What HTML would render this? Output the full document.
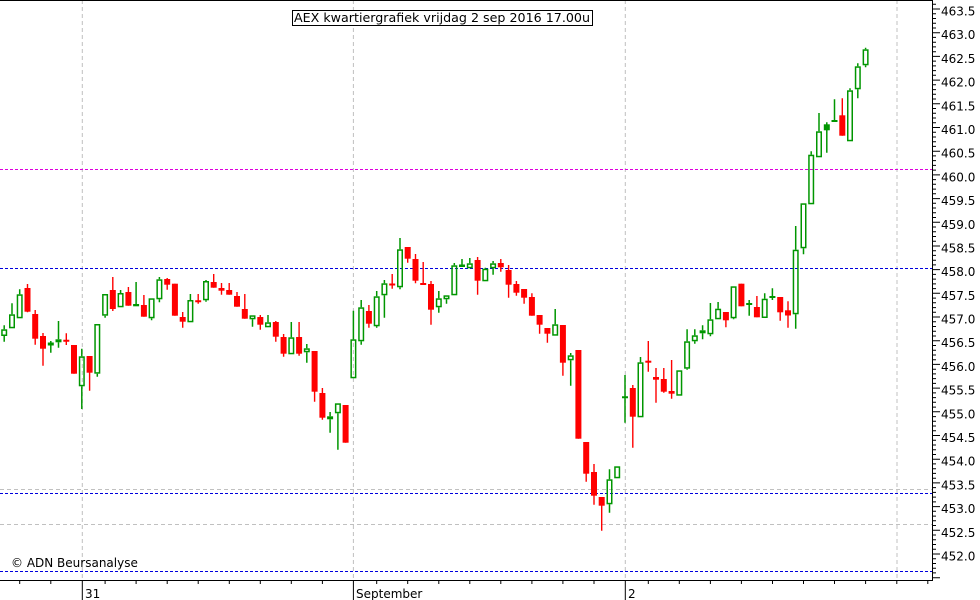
<!DOCTYPE html>
<html><head><meta charset="utf-8"><style>
html,body{margin:0;padding:0;background:#fff;}
svg{display:block;}
text{font-family:"DejaVu Sans","Liberation Sans",sans-serif;font-size:12px;fill:#000;}
</style></head><body>
<svg width="980" height="600" viewBox="0 0 980 600" xmlns="http://www.w3.org/2000/svg">
<rect x="0" y="0" width="980" height="600" fill="#fff"/>
<g stroke="#c0c0c0" stroke-width="1" stroke-dasharray="4 3" fill="none">
<path d="M82.3 0V580M353.4 0V580M625.3 0V580M897 0V580"/>
<path d="M0 489.5H932M0 524.5H932"/>
</g>
<g stroke-width="1" stroke-dasharray="3 2" fill="none">
<path d="M0 169.5H932" stroke="#dd00dd"/>
<path d="M0 268.5H932M0 493.5H932M0 571.5H932" stroke="#0000dd"/>
</g>
<path fill="none" stroke="#ff0000" stroke-width="1.4" d="M27.5 284V312.3M35.2 310V344.7M43 333V365.7M66.3 333.3V345M74 345V373.7M89.6 356V390.7M112.8 277V311M128.4 287V305.7M143.9 295V316.7M167.2 278V289.7M174.9 283.7V315.7M182.7 312V327.7M198.2 294V303.7M213.7 274V287.7M221.5 283V294.7M229.2 283V294.7M237 292V306.7M244.8 294V318.7M260.3 315V329.7M275.8 321V341.7M283.6 334V356.7M299.1 322V355.7M314.6 351V401.7M322.4 388V419.7M345.6 405V442.7M368.9 305V327.7M392.2 274V288.7M407.7 247V262.7M415.5 254V283.3M423.2 262V284.7M431 281V324.7M477.6 257V294.7M500.8 259V271.7M508.6 265V297.7M516.4 281V295.7M524.1 289V303.7M531.9 293.3V315.7M539.6 315V333.7M547.4 328V342.7M562.9 325V375.7M578.4 350V438.7M586.2 442V481.7M594 464V504.7M601.7 497V530.7M632.8 385V447.7M648.3 341V371.7M656 368V402.7M663.8 368V392.7M671.6 360V398.7M725.9 312V327.3M741.4 283.7V306.3M756.9 296V317.3M780.2 297V320.7M788 301.3V327.7M842.3 98.3V135.7"/>
<path fill="none" stroke="#ff0000" stroke-width="2" d="M63.3 340.7H69.3M195.2 301.3H201.2M420.2 284H426.2"/>
<g fill="#ff0000">
<rect x="24.5" y="288" width="6" height="23.7"/>
<rect x="32.2" y="314" width="6" height="24.7"/>
<rect x="40" y="336" width="6" height="12.7"/>
<rect x="71" y="345" width="6" height="28.7"/>
<rect x="86.6" y="356" width="6" height="16.7"/>
<rect x="109.8" y="290" width="6" height="19"/>
<rect x="125.4" y="292" width="6" height="13.7"/>
<rect x="140.9" y="305" width="6" height="11.7"/>
<rect x="164.2" y="279" width="6" height="5.7"/>
<rect x="171.9" y="283.7" width="6" height="32"/>
<rect x="179.7" y="317" width="6" height="4.7"/>
<rect x="210.7" y="282" width="6" height="5.7"/>
<rect x="218.5" y="288" width="6" height="2.7"/>
<rect x="226.2" y="290" width="6" height="4.7"/>
<rect x="234" y="296" width="6" height="10.7"/>
<rect x="241.8" y="309" width="6" height="9.7"/>
<rect x="257.3" y="317" width="6" height="7.7"/>
<rect x="272.8" y="322" width="6" height="14.7"/>
<rect x="280.6" y="337" width="6" height="16.7"/>
<rect x="296.1" y="337" width="6" height="16.7"/>
<rect x="311.6" y="351" width="6" height="40.7"/>
<rect x="319.4" y="393" width="6" height="24.7"/>
<rect x="342.6" y="405" width="6" height="37.7"/>
<rect x="365.9" y="311" width="6" height="12.7"/>
<rect x="389.2" y="283.5" width="6" height="2"/>
<rect x="404.7" y="247" width="6" height="11.7"/>
<rect x="412.5" y="259" width="6" height="21.7"/>
<rect x="428" y="284" width="6" height="25.7"/>
<rect x="474.6" y="260" width="6" height="20.7"/>
<rect x="497.8" y="263" width="6" height="4.3"/>
<rect x="505.6" y="270" width="6" height="14.7"/>
<rect x="513.4" y="284" width="6" height="8.7"/>
<rect x="521.1" y="289" width="6" height="8.7"/>
<rect x="528.9" y="297" width="6" height="18.7"/>
<rect x="536.6" y="315" width="6" height="9.7"/>
<rect x="544.4" y="328" width="6" height="5.7"/>
<rect x="559.9" y="325" width="6" height="37.7"/>
<rect x="575.4" y="350" width="6" height="88.7"/>
<rect x="583.2" y="442" width="6" height="31.7"/>
<rect x="591" y="472" width="6" height="23.7"/>
<rect x="598.7" y="497" width="6" height="8.7"/>
<rect x="629.8" y="388" width="6" height="28.7"/>
<rect x="645.3" y="360.7" width="6" height="2"/>
<rect x="653" y="377" width="6" height="2.7"/>
<rect x="660.8" y="379" width="6" height="12.7"/>
<rect x="668.6" y="391" width="6" height="2.7"/>
<rect x="722.9" y="312" width="6" height="8.3"/>
<rect x="738.4" y="283.7" width="6" height="22.6"/>
<rect x="753.9" y="307" width="6" height="10.3"/>
<rect x="777.2" y="297" width="6" height="15.3"/>
<rect x="785" y="310.3" width="6" height="5.2"/>
<rect x="839.3" y="115.3" width="6" height="20.4"/>
</g>
<path fill="none" stroke="#009600" stroke-width="1.5" d="M4.2 325.3V329.3M4.2 336V341.7M12 303.3V314.3M19.7 289.3V294.3M58.5 321V339.3M58.5 342.3V347.7M81.8 348.7V356.3M81.8 386.3V409M97.3 373.7V376.7M105.1 315.7V317.7M120.6 290V293M136.1 282V304M151.6 318.3V320.3M159.4 277V279.3M159.4 299.3V302.3M190.4 294V300M206 280V281M206 300.3V301.7M252.5 319.3V326.7M268 315V322.3M291.3 322V337.3M306.8 344V348.3M306.8 352.3V362.7M330.1 412V416.3M330.1 419.3V432.7M337.9 413.3V449.7M353.4 310.7V339.3M361.2 300V307.3M361.2 341.3V344.7M376.7 291V296.3M376.7 326.3V327.7M384.4 280V283.3M384.4 295.3V317.7M400 238V249.3M400 287.3V289.3M438.8 291V298.3M438.8 307.3V312.7M446.5 299.3V303.7M454.3 263V265.3M469.8 258V263.3M485.3 267.7V268.7M493.1 261V263.3M493.1 268.3V274.7M555.2 309V324.3M570.7 353V355.3M570.7 360.3V385.7M609.5 469.3V479.3M609.5 504.3V512.7M640.5 357V362.3M687.1 329.3V341.3M687.1 368.7V369.7M694.8 329.3V335.3M694.8 341.3V343.7M702.6 325.3V330.3M702.6 333.3V339.3M710.4 303V319.3M710.4 334.3V336.3M718.1 302V308.7M733.6 318.3V319.3M764.7 293.3V298.7M795.7 226V249.7M795.7 314.3V328.7M803.5 248.3V254.3M811.2 151.3V154.7M819 113V131.3M850 88.3V90.3M857.8 63.3V66.3M857.8 89.3V98.3M865.6 47.7V49.3M865.6 65.3V67.3M50.8 341V352.7M462 259V266.3M826.8 122.3V152.7M625 375V422.7M749.2 300V315.7M772.4 288.3V300M834.5 99.3V121"/>
<path fill="none" stroke="#009600" stroke-width="2" d="M622 397.3H628M746.2 304H752.2M769.4 297H775.4M831.5 121H837.5"/>
<g fill="#009600">
<rect x="47.8" y="342.5" width="6" height="3"/>
<rect x="459" y="264.5" width="6" height="2.5"/>
<rect x="823.8" y="124.3" width="6" height="6"/>
</g>
<g fill="none" stroke="#009600" stroke-width="1.5">
<rect x="1.95" y="330.05" width="4.5" height="5.2"/>
<rect x="9.75" y="315.05" width="4.5" height="12.5"/>
<rect x="17.45" y="295.05" width="4.5" height="22.5"/>
<rect x="56.25" y="340.05" width="4.5" height="1.5"/>
<rect x="79.55" y="357.05" width="4.5" height="28.5"/>
<rect x="95.05" y="324.75" width="4.5" height="48.2"/>
<rect x="102.85" y="294.75" width="4.5" height="20.2"/>
<rect x="118.35" y="293.75" width="4.5" height="12.8"/>
<rect x="133.85" y="304.75" width="4.5" height="0.8"/>
<rect x="149.35" y="299.05" width="4.5" height="18.5"/>
<rect x="157.15" y="280.05" width="4.5" height="18.5"/>
<rect x="188.15" y="300.75" width="4.5" height="20.8"/>
<rect x="203.75" y="281.75" width="4.5" height="17.8"/>
<rect x="250.25" y="316.05" width="4.5" height="2.5"/>
<rect x="265.75" y="323.05" width="4.5" height="3.5"/>
<rect x="289.05" y="338.05" width="4.5" height="15.5"/>
<rect x="304.55" y="349.05" width="4.5" height="2.5"/>
<rect x="327.85" y="417.05" width="4.5" height="1.5"/>
<rect x="335.65" y="404.05" width="4.5" height="8.5"/>
<rect x="351.15" y="340.05" width="4.5" height="37.5"/>
<rect x="358.95" y="308.05" width="4.5" height="32.5"/>
<rect x="374.45" y="297.05" width="4.5" height="28.5"/>
<rect x="382.15" y="284.05" width="4.5" height="10.5"/>
<rect x="397.75" y="250.05" width="4.5" height="36.5"/>
<rect x="436.55" y="299.05" width="4.5" height="7.5"/>
<rect x="444.25" y="296.05" width="4.5" height="2.5"/>
<rect x="452.05" y="266.05" width="4.5" height="28.5"/>
<rect x="467.55" y="264.05" width="4.5" height="3.5"/>
<rect x="483.05" y="269.45" width="4.5" height="11.1"/>
<rect x="490.85" y="264.05" width="4.5" height="3.5"/>
<rect x="552.95" y="325.05" width="4.5" height="9.9"/>
<rect x="568.45" y="356.05" width="4.5" height="3.5"/>
<rect x="607.25" y="480.05" width="4.5" height="23.5"/>
<rect x="614.95" y="467.05" width="4.5" height="10.5"/>
<rect x="638.25" y="363.05" width="4.5" height="53.5"/>
<rect x="677.05" y="371.05" width="4.5" height="23.9"/>
<rect x="684.85" y="342.05" width="4.5" height="25.9"/>
<rect x="692.55" y="336.05" width="4.5" height="4.5"/>
<rect x="700.35" y="331.05" width="4.5" height="1.5"/>
<rect x="708.15" y="320.05" width="4.5" height="13.5"/>
<rect x="715.85" y="309.45" width="4.5" height="9.1"/>
<rect x="731.35" y="287.05" width="4.5" height="30.5"/>
<rect x="762.45" y="299.45" width="4.5" height="17.8"/>
<rect x="793.45" y="250.45" width="4.5" height="63.1"/>
<rect x="801.25" y="204.05" width="4.5" height="43.5"/>
<rect x="808.95" y="155.45" width="4.5" height="48.1"/>
<rect x="816.75" y="132.05" width="4.5" height="24.5"/>
<rect x="847.75" y="91.05" width="4.5" height="49.5"/>
<rect x="855.55" y="67.05" width="4.5" height="21.5"/>
<rect x="863.35" y="50.05" width="4.5" height="14.5"/>
</g>
<g stroke="#000" fill="none" stroke-width="1">
<path d="M0 0.5H932.5"/>
<path d="M932.5 0V581"/>
<path d="M0 580.5H933"/>
<path d="M932 4.3h4M932 13.7h4M932 18.5h4M932 23.2h4M932 28h4M932 37.4h4M932 42.2h4M932 46.9h4M932 51.7h4M932 61.1h4M932 65.9h4M932 70.6h4M932 75.3h4M932 84.8h4M932 89.6h4M932 94.3h4M932 99h4M932 108.5h4M932 113.3h4M932 118h4M932 122.7h4M932 132.2h4M932 137h4M932 141.7h4M932 146.4h4M932 155.9h4M932 160.6h4M932 165.4h4M932 170.1h4M932 179.6h4M932 184.3h4M932 189.1h4M932 193.8h4M932 203.3h4M932 208h4M932 212.8h4M932 217.5h4M932 227h4M932 231.7h4M932 236.5h4M932 241.2h4M932 250.7h4M932 255.4h4M932 260.2h4M932 264.9h4M932 274.4h4M932 279.1h4M932 283.9h4M932 288.6h4M932 298.1h4M932 302.8h4M932 307.6h4M932 312.3h4M932 321.8h4M932 326.5h4M932 331.3h4M932 336h4M932 345.5h4M932 350.2h4M932 355h4M932 359.7h4M932 369.2h4M932 373.9h4M932 378.6h4M932 383.4h4M932 392.9h4M932 397.6h4M932 402.3h4M932 407.1h4M932 416.6h4M932 421.3h4M932 426h4M932 430.8h4M932 440.2h4M932 445h4M932 449.7h4M932 454.5h4M932 463.9h4M932 468.7h4M932 473.4h4M932 478.2h4M932 487.6h4M932 492.4h4M932 497.1h4M932 501.9h4M932 511.3h4M932 516.1h4M932 520.8h4M932 525.5h4M932 535h4M932 539.8h4M932 544.5h4M932 549.2h4M932 558.7h4M932 563.5h4M932 568.2h4M932 572.9h4"/>
<path d="M932 9h8M932 32.7h8M932 56.4h8M932 80.1h8M932 103.8h8M932 127.5h8M932 151.2h8M932 174.9h8M932 198.6h8M932 222.3h8M932 246h8M932 269.6h8M932 293.3h8M932 317h8M932 340.7h8M932 364.4h8M932 388.1h8M932 411.8h8M932 435.5h8M932 459.2h8M932 482.9h8M932 506.6h8M932 530.3h8M932 554h8M932 577.7h8"/>
<path d="M19.7 580v4M50.8 580v4M105.1 580v4M136.1 580v4M167.2 580v4M198.2 580v4M229.3 580v4M260.3 580v4M291.3 580v4M322.4 580v4M376.7 580v4M407.7 580v4M438.8 580v4M469.8 580v4M500.8 580v4M531.9 580v4M562.9 580v4M594 580v4M648.3 580v4M679.3 580v4M710.4 580v4M741.4 580v4M772.5 580v4M803.5 580v4M834.5 580v4M865.6 580v4M896.8 580v4M927.8 580v4"/>
<path d="M82.3 580V600M353.4 580V600M625.3 580V600"/>
</g>
<g>
<text x="941" y="15.5">463.5</text>
<text x="941" y="39.2">463.0</text>
<text x="941" y="62.9">462.5</text>
<text x="941" y="86.6">462.0</text>
<text x="941" y="110.3">461.5</text>
<text x="941" y="134">461.0</text>
<text x="941" y="157.7">460.5</text>
<text x="941" y="181.4">460.0</text>
<text x="941" y="205.1">459.5</text>
<text x="941" y="228.8">459.0</text>
<text x="941" y="252.5">458.5</text>
<text x="941" y="276.1">458.0</text>
<text x="941" y="299.8">457.5</text>
<text x="941" y="323.5">457.0</text>
<text x="941" y="347.2">456.5</text>
<text x="941" y="370.9">456.0</text>
<text x="941" y="394.6">455.5</text>
<text x="941" y="418.3">455.0</text>
<text x="941" y="442">454.5</text>
<text x="941" y="465.7">454.0</text>
<text x="941" y="489.4">453.5</text>
<text x="941" y="513.1">453.0</text>
<text x="941" y="536.8">452.5</text>
<text x="941" y="560.5">452.0</text>
</g>
<text x="85" y="598">31</text>
<text x="356" y="598">September</text>
<text x="628" y="598">2</text>
<text x="11" y="567">© ADN Beursanalyse</text>
<rect x="292.5" y="10.5" width="300" height="15" fill="#fff" stroke="#000" stroke-width="1"/>
<text x="294" y="22" textLength="296" lengthAdjust="spacingAndGlyphs" style="font-size:12.5px">AEX kwartiergrafiek vrijdag 2 sep 2016 17.00u</text>
</svg>
</body></html>
